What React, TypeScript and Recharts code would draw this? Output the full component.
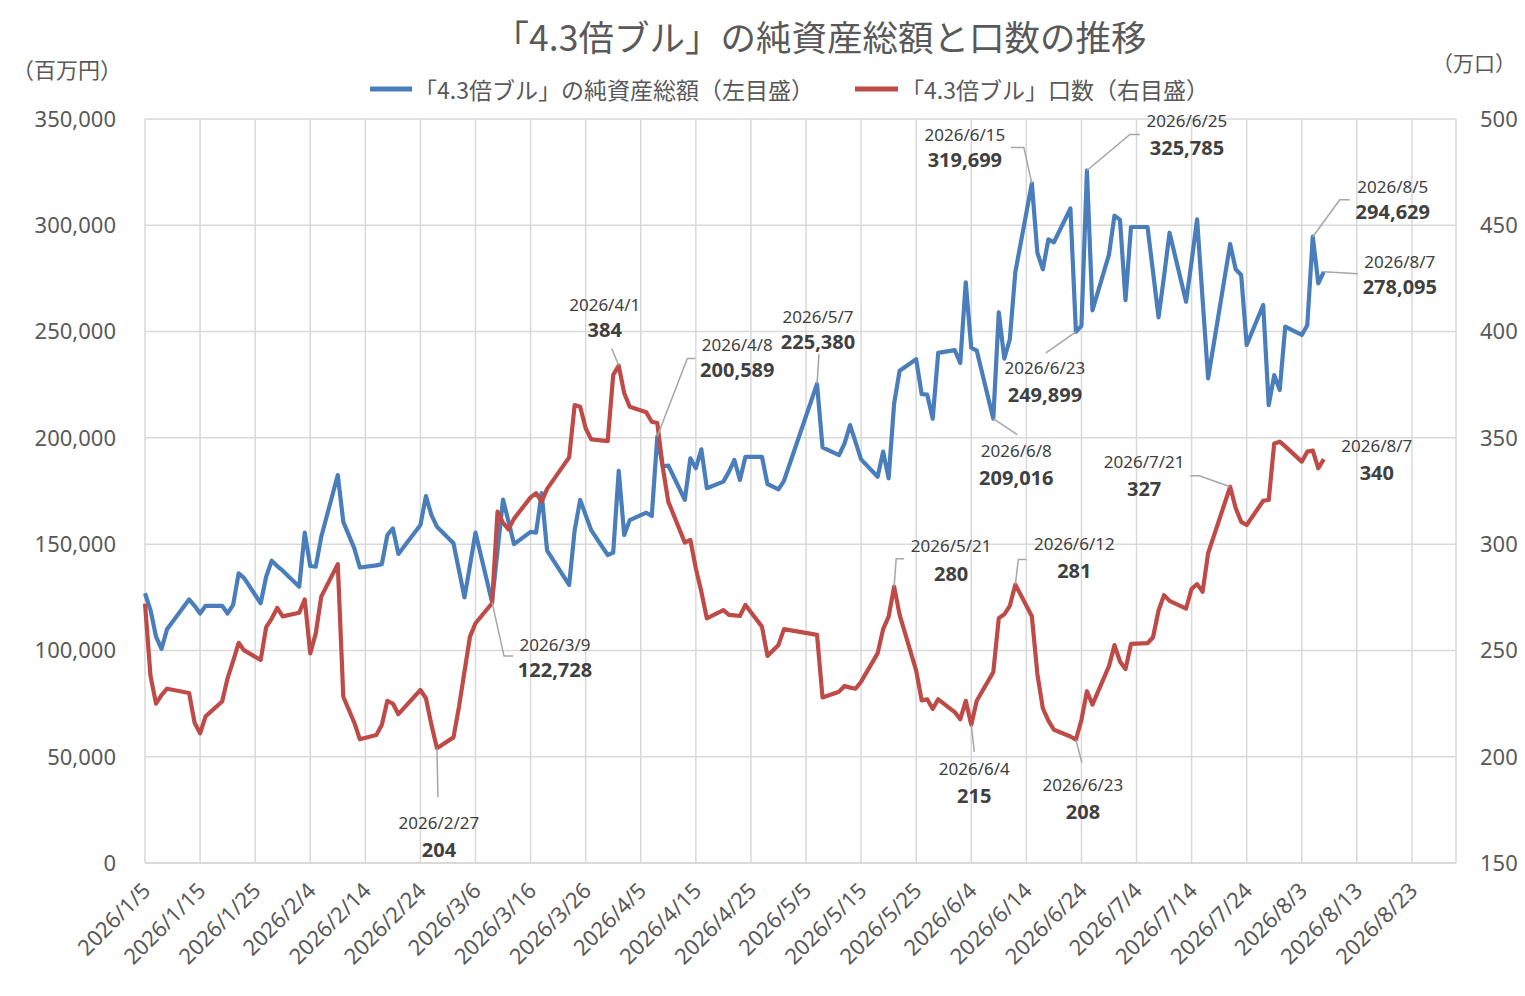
import React from 'react';
import { LineChart, Line, XAxis, YAxis, CartesianGrid } from 'recharts';

// ---- data ----
const dates = [
  '2026/1/5', '2026/1/6', '2026/1/7', '2026/1/8', '2026/1/9', '2026/1/13', '2026/1/14', '2026/1/15', '2026/1/16',
  '2026/1/19', '2026/1/20', '2026/1/21', '2026/1/22', '2026/1/23', '2026/1/26', '2026/1/27', '2026/1/28', '2026/1/29', '2026/1/30',
  '2026/2/2', '2026/2/3', '2026/2/4', '2026/2/5', '2026/2/6', '2026/2/9', '2026/2/10', '2026/2/12', '2026/2/13',
  '2026/2/16', '2026/2/17', '2026/2/18', '2026/2/19', '2026/2/20', '2026/2/24', '2026/2/25', '2026/2/26', '2026/2/27',
  '2026/3/2', '2026/3/3', '2026/3/4', '2026/3/5', '2026/3/6', '2026/3/9', '2026/3/10', '2026/3/11', '2026/3/12', '2026/3/13',
  '2026/3/16', '2026/3/17', '2026/3/18', '2026/3/19', '2026/3/23', '2026/3/24', '2026/3/25', '2026/3/26', '2026/3/27',
  '2026/3/30', '2026/3/31', '2026/4/1', '2026/4/2', '2026/4/3', '2026/4/6', '2026/4/7', '2026/4/8', '2026/4/9', '2026/4/10',
  '2026/4/13', '2026/4/14', '2026/4/15', '2026/4/16', '2026/4/17', '2026/4/20', '2026/4/21', '2026/4/22', '2026/4/23', '2026/4/24',
  '2026/4/27', '2026/4/28', '2026/4/30', '2026/5/1', '2026/5/7', '2026/5/8', '2026/5/11', '2026/5/12', '2026/5/13', '2026/5/14', '2026/5/15',
  '2026/5/18', '2026/5/19', '2026/5/20', '2026/5/21', '2026/5/22', '2026/5/25', '2026/5/26', '2026/5/27', '2026/5/28', '2026/5/29',
  '2026/6/1', '2026/6/2', '2026/6/3', '2026/6/4', '2026/6/5', '2026/6/8', '2026/6/9', '2026/6/10', '2026/6/11', '2026/6/12',
  '2026/6/15', '2026/6/16', '2026/6/17', '2026/6/18', '2026/6/19', '2026/6/22', '2026/6/23', '2026/6/24', '2026/6/25', '2026/6/26',
  '2026/6/29', '2026/6/30', '2026/7/1', '2026/7/2', '2026/7/3', '2026/7/6', '2026/7/7', '2026/7/8', '2026/7/9', '2026/7/10',
  '2026/7/13', '2026/7/14', '2026/7/15', '2026/7/16', '2026/7/17', '2026/7/21', '2026/7/22', '2026/7/23', '2026/7/24',
  '2026/7/27', '2026/7/28', '2026/7/29', '2026/7/30', '2026/7/31', '2026/8/3', '2026/8/4', '2026/8/5', '2026/8/6', '2026/8/7',
];

// 純資産総額（百万円）
const netAssets = [
  126900, 119000, 106500, 100700, 110000, 124000, 121000, 117400, 121000,
  121000, 117400, 121400, 136300, 134000, 122200, 134700, 142200, 139700, 137500,
  130000, 155400, 139700, 139400, 153500, 182500, 160500, 148000, 139000,
  140000, 140600, 154300, 157400, 145400, 159000, 172600, 163700, 158200,
  150400, 137700, 125000, 140000, 155400, 122728, 147000, 171000, 160500, 150000,
  155800, 155400, 174000, 147000, 130800, 156600, 170800, 163700, 156600,
  144900, 146000, 184500, 154300, 161300, 164800, 163200, 200589, 186500, 187000,
  170800, 190400, 185700, 194600, 176300, 179400, 184000, 189600, 180200, 191100,
  191100, 178300, 175800, 179800, 225380, 195500, 191900, 197400, 206000, 198000, 189900,
  181700, 193500, 181000, 216200, 231600, 237000, 220600, 220400, 209000, 240000,
  241300, 235200, 273200, 242400, 241000, 209016, 259000, 237300, 246400, 278000,
  319699, 287100, 279300, 293400, 292000, 307900, 249899, 252700, 325785, 260000,
  286200, 304600, 302500, 264800, 299200, 299200, 278000, 256700, 276000, 296500,
  264000, 283000, 302800, 265000, 228000, 291200, 279300, 276600, 243700,
  262500, 215400, 229500, 222500, 252300, 248400, 253000, 294629, 272700, 278095,
];

// 口数（万口）
const units = [
  272, 238, 225, 229, 232, 230, 216, 211, 219,
  226, 237, 245, 253.6, 250, 245.5, 261, 265, 270, 266,
  267.7, 274, 248.6, 258, 275.3, 290.6, 228.2, 216, 208.2,
  210.2, 215, 226.3, 225, 220, 231.4, 227.5, 215, 204,
  209.1, 223.5, 240, 256.5, 262.8, 272.2, 315.3, 310, 307, 312,
  322, 324, 320, 326, 340.8, 365.4, 364.6, 354.5, 349.3,
  348.5, 379.6, 384, 371, 364.6, 362, 357.6, 357, 336, 320,
  300.7, 302, 288.6, 277.6, 265.1, 269, 266.7, 266.5, 266.2, 271.4,
  261.2, 247.4, 252.6, 260, 257.3, 227.9, 230.6, 233.3, 232.5, 232, 235.3,
  248.6, 260, 265.9, 280, 266.7, 240.5, 226.5, 227, 222.5, 227,
  221, 217.6, 226.3, 215, 226.3, 239.8, 265.2, 267, 271, 281,
  266.1, 239, 222.7, 217, 212.7, 209.5, 208, 217.3, 230.8, 224.5,
  242.6, 252.5, 244.8, 241.2, 253.1, 253.4, 256.2, 268.8, 276, 273.3,
  269.7, 279, 281.2, 277.6, 295.7, 327, 317, 310.5, 309,
  320.4, 320.8, 347.4, 348.2, 346, 338.8, 343.5, 344, 335.7, 340,
];

const xTickLabels = [
  '2026/1/5', '2026/1/15', '2026/1/25', '2026/2/4', '2026/2/14', '2026/2/24', '2026/3/6', '2026/3/16',
  '2026/3/26', '2026/4/5', '2026/4/15', '2026/4/25', '2026/5/5', '2026/5/15', '2026/5/25', '2026/6/4',
  '2026/6/14', '2026/6/24', '2026/7/4', '2026/7/14', '2026/7/24', '2026/8/3', '2026/8/13', '2026/8/23',
];
const xAxisEnd = '2026/8/31';
const leftTicks = [0, 50000, 100000, 150000, 200000, 250000, 300000, 350000];
const rightTicks = [150, 200, 250, 300, 350, 400, 450, 500];

const titleText = '「4.3倍ブル」の純資産総額と口数の推移';
const navName = '「4.3倍ブル」の純資産総額（左目盛）';
const unitsName = '「4.3倍ブル」口数（右目盛）';
const leftUnit = '（百万円）';
const rightUnit = '（万口）';

// ---- helpers ----
const BASE = Date.UTC(2026, 0, 5);
const dayOf = (s: string) => {
  const [y, m, d] = s.split('/').map(Number);
  return Math.round((Date.UTC(y, m - 1, d) - BASE) / 86400000);
};
const labelOfDay = new Map(xTickLabels.map((s) => [dayOf(s), s]));

const data = dates.map((d, i) => ({ day: dayOf(d), date: d, nav: netAssets[i], units: units[i] }));

// ---- layout for the data-label callouts (relative to the point) ----
type Ann = { dx: number; dy1: number; dy2: number; leader: number[][] };
const navLabelLayout: Record<string, Ann> = {
  '2026/3/9': { dx: 63, dy1: 42, dy2: 67, leader: [[0, 0], [12, 54], [21, 54]] },
  '2026/4/8': { dx: 80, dy1: -92, dy2: -67, leader: [[0, 0], [30, -78], [38, -78]] },
  '2026/5/7': { dx: 1, dy1: -67, dy2: -42, leader: [[0, 0], [2, -30]] },
  '2026/6/8': { dx: 23, dy1: 32, dy2: 59, leader: [[0, 0], [24, 16]] },
  '2026/6/15': { dx: -67, dy1: -49, dy2: -24, leader: [[0, 0], [-8, -36], [-21, -36]] },
  '2026/6/23': { dx: -31, dy1: 36, dy2: 63, leader: [[0, 0], [-30, 21]] },
  '2026/6/25': { dx: 100, dy1: -50, dy2: -23, leader: [[0, 0], [43, -36], [53, -36]] },
  '2026/8/5': { dx: 80, dy1: -50, dy2: -25, leader: [[0, 0], [27, -37], [37, -37]] },
  '2026/8/7': { dx: 76, dy1: -10, dy2: 15, leader: [[0, 0], [34, 2]] },
};
const unitsLabelLayout: Record<string, Ann> = {
  '2026/2/27': { dx: 2, dy1: 74, dy2: 101, leader: [[0, 0], [1, 49]] },
  '2026/4/1': { dx: -14, dy1: -61, dy2: -36, leader: [[0, 0], [-7, -17]] },
  '2026/5/21': { dx: 57, dy1: -41, dy2: -13, leader: [[0, 0], [2, -28], [10, -28]] },
  '2026/6/4': { dx: 3, dy1: 44, dy2: 71, leader: [[0, 0], [3, 27]] },
  '2026/6/12': { dx: 59, dy1: -41, dy2: -14, leader: [[0, 0], [3, -25], [11, -25]] },
  '2026/6/23': { dx: 7, dy1: 45, dy2: 72, leader: [[0, 0], [6, 23]] },
  '2026/7/21': { dx: -86, dy1: -25, dy2: 2, leader: [[0, 0], [-31, -11], [-40, -11]] },
  '2026/8/7': { dx: 53, dy1: -14, dy2: 13, leader: [] },
};

const BLUE = '#4a7ebb';
const RED = '#be4b48';
const GRID = '#d9d9d9';
const TXT = '#595959';
const LBL = '#404040';
const NUM_FONT = "'Noto Sans', 'DejaVu Sans', sans-serif";
const JP_FONT = "'Noto Sans CJK JP', 'Noto Sans', sans-serif";

const makeDot = (series: 'nav' | 'units', layout: Record<string, Ann>) => (props: any) => {
  const { cx, cy, index, payload } = props;
  const ann = payload ? layout[payload.date] : undefined;
  if (!ann || cx == null || cy == null) return <g key={`${series}-d-${index}`} />;
  const pts = ann.leader.map(([a, b]) => `${cx + a},${cy + b}`).join(' ');
  const val = series === 'nav' ? Number(payload.nav).toLocaleString('en-US') : String(Math.round(payload.units));
  return (
    <g key={`${series}-d-${index}`}>
      {ann.leader.length > 1 && <polyline points={pts} fill="none" stroke="#a6a6a6" strokeWidth={1.5} />}
      <text x={cx + ann.dx} y={cy + ann.dy1} textAnchor="middle" dominantBaseline="central" fontSize={17} fill={LBL} fontFamily={NUM_FONT}>
        {payload.date}
      </text>
      <text x={cx + ann.dx} y={cy + ann.dy2} textAnchor="middle" dominantBaseline="central" fontSize={20} fontWeight="bold" fill={LBL} fontFamily={NUM_FONT}>
        {val}
      </text>
    </g>
  );
};

const DateTick = (props: any) => {
  const { x, y, payload } = props;
  const label = labelOfDay.get(payload.value) ?? '';
  return (
    <text
      transform={`translate(${x + 7},${y + 21}) rotate(-45)`}
      textAnchor="end"
      fontSize={22}
      fill={TXT}
      fontFamily={NUM_FONT}
    >
      {label}
    </text>
  );
};

export default function App() {
  const W = 1509;
  const H = 980;
  return (
    <div style={{ position: 'relative', width: W, height: H, background: '#fff' }}>
      <LineChart width={W} height={H} data={data} margin={{ top: 111, right: 0, bottom: 0, left: 0 }}>
        <CartesianGrid yAxisId="left" stroke={GRID} strokeWidth={1.5} />
        <XAxis
          dataKey="day"
          type="number"
          domain={[0, dayOf(xAxisEnd)]}
          ticks={xTickLabels.map(dayOf)}
          interval={0}
          height={125}
          tickLine={false}
          axisLine={{ stroke: GRID, strokeWidth: 2 }}
          tick={<DateTick />}
        />
        <YAxis
          yAxisId="left"
          orientation="left"
          width={137}
          domain={[0, 350000]}
          ticks={leftTicks}
          interval={0}
          axisLine={false}
          tickLine={false}
          tickMargin={23}
          tickFormatter={(v: number) => v.toLocaleString('en-US')}
          tick={{ fontSize: 22, fill: TXT, fontFamily: NUM_FONT }}
        />
        <YAxis
          yAxisId="right"
          orientation="right"
          width={61}
          domain={[150, 500]}
          ticks={rightTicks}
          interval={0}
          axisLine={false}
          tickLine={false}
          tickMargin={18}
          tick={{ fontSize: 22, fill: TXT, fontFamily: NUM_FONT, textAnchor: 'start' }}
        />
        <Line
          yAxisId="left"
          type="linear"
          dataKey="nav"
          stroke={BLUE}
          strokeWidth={4.2}
          strokeLinejoin="round"
          dot={makeDot('nav', navLabelLayout)}
          activeDot={false}
          isAnimationActive={false}
        />
        <Line
          yAxisId="right"
          type="linear"
          dataKey="units"
          stroke={RED}
          strokeWidth={4.2}
          strokeLinejoin="round"
          dot={makeDot('units', unitsLabelLayout)}
          activeDot={false}
          isAnimationActive={false}
        />
      </LineChart>
      <svg width={W} height={H} style={{ position: 'absolute', left: 0, top: 0, pointerEvents: 'none', overflow: 'visible' }}>
        <g transform="translate(-8,-8)">
          <text x={820} y={35} textAnchor="middle" dominantBaseline="central" fontSize={35.5} fill={TXT} fontFamily={JP_FONT}>
            {titleText}
          </text>
          <text x={12} y={68} dominantBaseline="central" fontSize={22} fill={TXT} fontFamily={JP_FONT}>
            {leftUnit}
          </text>
          <text x={1516} y={62} textAnchor="end" dominantBaseline="central" fontSize={21} fill={TXT} fontFamily={JP_FONT}>
            {rightUnit}
          </text>
          <line x1={370} y1={89} x2={412} y2={89} stroke={BLUE} strokeWidth={5} />
          <text x={414} y={89} dominantBaseline="central" fontSize={23} fill={TXT} fontFamily={JP_FONT}>
            {navName}
          </text>
          <line x1={855} y1={89} x2={898} y2={89} stroke={RED} strokeWidth={5} />
          <text x={901} y={89} dominantBaseline="central" fontSize={23} fill={TXT} fontFamily={JP_FONT}>
            {unitsName}
          </text>
        </g>
      </svg>
    </div>
  );
}
